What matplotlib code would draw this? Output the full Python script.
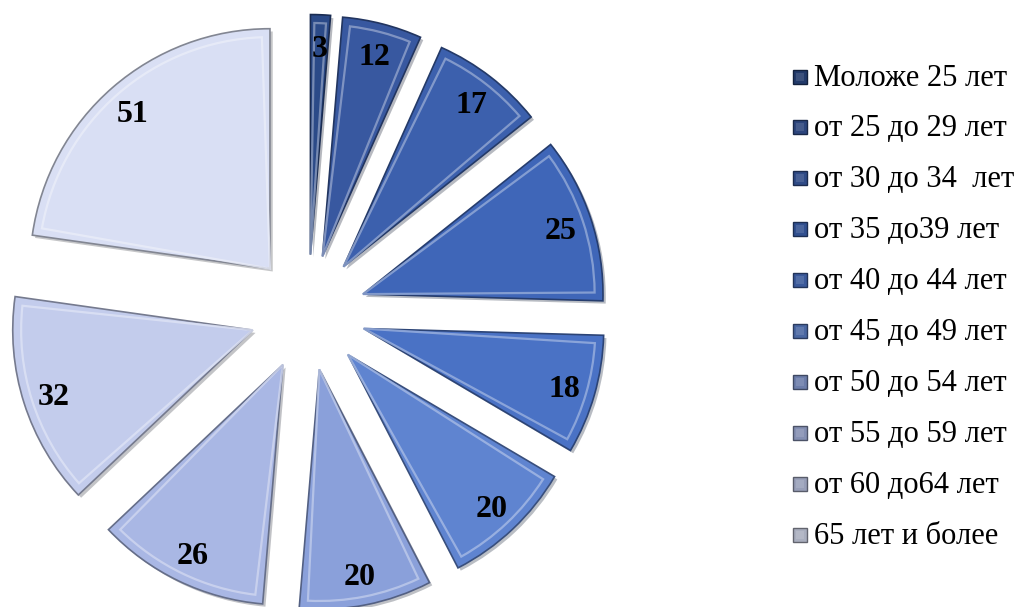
import numpy as np
import matplotlib.pyplot as plt
import matplotlib.patheffects as pe
from matplotlib.patches import Wedge, Rectangle
from matplotlib.colors import to_rgb

# age groups and counts
categories = ["Моложе 25 лет", "от 25 до 29 лет", "от 30 до 34  лет", "от 35 до39 лет",
              "от 40 до 44 лет", "от 45 до 49 лет", "от 50 до 54 лет", "от 55 до 59 лет",
              "от 60 до64 лет", "65 лет и более"]
values = [3, 12, 17, 25, 18, 20, 20, 26, 32, 51]
colors = ["#2b4a88", "#3858a0", "#3c60ad", "#3f66b8", "#4a72c5",
          "#5f84d0", "#8aa0da", "#a9b7e4", "#c3ccec", "#d9dff4"]

W, H = 1025, 607
R = 240.0            # pie radius in px
CX, CY = 308, 312.5  # pie centre in px (from top)
EXPL = 58.0 / R

plt.rcParams['font.family'] = ['Liberation Serif', 'DejaVu Serif']

fig = plt.figure(figsize=(W / 100, H / 100), dpi=100)
ax = fig.add_axes([0, 0, 1, 1])

wedges, texts = ax.pie(values, colors=colors, startangle=90, counterclock=False,
                       radius=1, center=(0, 0), explode=[EXPL] * len(values),
                       labels=[str(v) for v in values], labeldistance=0.87,
                       textprops=dict(ha='center', va='center_baseline', fontsize=23,
                                      fontweight='bold', color='black'),
                       wedgeprops=dict(linewidth=1.2))

def darker(c, f):
    r, g, b = to_rgb(c)
    return (r * f, g * f, b * f)

def lighter(c, f):
    r, g, b = to_rgb(c)
    return (r + (1 - r) * f, g + (1 - g) * f, b + (1 - b) * f)

for w, c in zip(wedges, colors):
    w.set_edgecolor(darker(c, 0.6))
    w.set_path_effects([pe.SimplePatchShadow(offset=(2, -2), alpha=0.3), pe.Normal()])
    # inner bevel highlight
    t1, t2 = w.theta1, w.theta2
    dt = min(2.0, (t2 - t1) * 0.2)
    hl = Wedge(w.center, w.r * 0.965, t1 + dt, t2 - dt,
               facecolor='none', edgecolor=lighter(c, 0.45), linewidth=1.6, alpha=0.8)
    ax.add_patch(hl)
for t in texts:
    t.set_zorder(5)

ax.set_xlim(-CX / R, (W - CX) / R)
ax.set_ylim(-(H - CY) / R, CY / R)
ax.set_aspect('equal')
ax.axis('off')

# legend drawn in pixel coordinates
lax = fig.add_axes([0, 0, 1, 1])
lax.set_xlim(0, W)
lax.set_ylim(H, 0)
lax.axis('off')
for i, (lab, c) in enumerate(zip(categories, colors)):
    y = 76.5 + i * 50.9
    base = darker(c, 0.78)
    lax.add_patch(Rectangle((792.5, y - 7), 14, 14, facecolor=base,
                            edgecolor=darker(c, 0.45), linewidth=1.0))
    lax.add_patch(Rectangle((795.5, y - 4), 8, 8, facecolor=lighter(base, 0.12),
                            edgecolor='none'))
    lax.text(814, y + 1.5, lab, fontsize=22, ha='left', va='center', color='black')

fig.savefig("out.png", dpi=100)
